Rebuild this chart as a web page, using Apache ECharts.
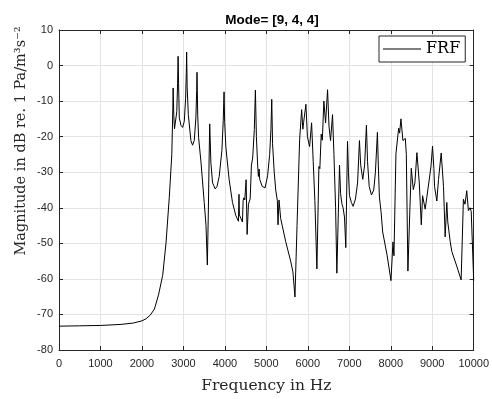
<!DOCTYPE html>
<html>
<head>
<meta charset="utf-8">
<script src="https://cdn.jsdelivr.net/npm/echarts@6/dist/echarts.min.js"></script>
<style>
html,body{margin:0;padding:0;background:#fff;}
#chart{width:492px;height:399px;}
</style>
</head>
<body>
<div id="chart"></div>
<script>
var chartTitle = 'Mode= [9, 4, 4]';
var seriesName = 'FRF';
var xLabel = 'Frequency in Hz';
var yLabel = 'Magnitude in dB re. 1 Pa/m\u00B3s\u207B\u00B2';
var xTicks = [0,1000,2000,3000,4000,5000,6000,7000,8000,9000,10000];
var yTicks = [-80,-70,-60,-50,-40,-30,-20,-10,0,10];

var freq = [0,500,1000,1500,1800,2000,2100,2200,2300,2400,2500,2580,2660,2720,2745,2752,2768,2785,2810,2840,2860,2872,2885,2901,2941,2981,3021,3053,3070,3078,3090,3118,3181,3221,3261,3301,3320,3328,3345,3366,3423,3502,3545,3577,3600,3620,3634,3663,3703,3767,3810,3863,3928,3960,3980,3995,4024,4103,4183,4264,4327,4340,4350,4423,4440,4456,4480,4512,4536,4568,4610,4640,4670,4710,4736,4760,4790,4808,4825,4840,4900,4969,5030,5080,5110,5130,5150,5190,5226,5265,5281,5305,5330,5345,5466,5586,5640,5690,5740,5803,5851,5880,5899,5954,5990,6043,6091,6130,6170,6219,6267,6290,6323,6350,6387,6428,6476,6510,6548,6596,6630,6670,6700,6764,6790,6820,6850,6884,6916,6957,6980,7004,7050,7092,7149,7200,7245,7275,7325,7370,7413,7440,7480,7534,7589,7630,7678,7700,7726,7765,7805,7909,8005,8053,8077,8125,8190,8214,8245,8293,8351,8375,8413,8462,8495,8543,8582,8630,8688,8736,8767,8830,8870,8911,8969,9007,9040,9055,9111,9151,9183,9216,9272,9312,9351,9375,9433,9472,9591,9697,9752,9790,9832,9872,9910,9940,10000];
var magnitude = [-73.3,-73.2,-73.1,-72.8,-72.4,-71.8,-71.2,-70.2,-68.5,-64.5,-59,-50,-37,-25,-12,-6.3,-14,-17.8,-17.5,-13,-5,2.6,-6,-14.7,-16.8,-17.4,-15.7,-9.2,-2,3.8,-6,-13.8,-21.1,-22.4,-21.1,-14.7,-7,-1.9,-14,-20.2,-27.1,-38.5,-45,-56.1,-42,-26,-16.4,-27.5,-33,-34.7,-34,-31.2,-23.9,-15.5,-7.4,-16,-23,-32.1,-38.5,-42.2,-43.8,-36.2,-42,-44,-38,-37.2,-37.8,-32.1,-47.5,-39,-37.5,-28,-26,-18,-6.9,-20,-28,-31.2,-29.1,-32,-34,-34.4,-31,-25,-18,-9.5,-22,-30,-35,-38,-44.8,-37.8,-41,-43,-49.5,-55,-58,-65.1,-45,-20.7,-12.4,-17.9,-16,-10.9,-20,-22.8,-16.1,-27,-38,-57.2,-28.4,-29,-19.3,-21,-10,-16.1,-6.8,-17,-21.1,-13.8,-25,-40,-58.4,-28,-36,-38.8,-40,-42.6,-51.2,-21.3,-30,-36.5,-38.5,-39.6,-37.5,-33,-21.1,-28,-32,-28,-16.8,-27,-34,-36.4,-35,-30,-18.8,-28,-37,-41,-46.8,-53.2,-60.5,-49.6,-53.5,-24.8,-17.6,-19,-15,-21.1,-20.5,-25,-57.8,-40,-28.9,-34.9,-33,-24.5,-33,-44.8,-36.6,-40.4,-37,-36.7,-28.5,-22.7,-29,-34,-38.1,-32.1,-31.7,-24.6,-34,-48.2,-38.5,-44,-49.5,-52.3,-56.4,-60.3,-37.6,-39,-35.2,-40.8,-40,-41,-60.5];

var data = freq.map(function(f, i){ return [f, magnitude[i]]; });

var axisColor = '#262626';
var gridColor = '#e3e3e3';
var sansFont = 'Liberation Sans, Arial, sans-serif';
var serifFont = 'DejaVu Serif, serif';

function plainLabel(v){ return String(v); }

var chart = echarts.init(document.getElementById('chart'), null, {renderer:'canvas'});
chart.setOption({
  animation: false,
  backgroundColor: '#ffffff',
  title: {
    text: chartTitle,
    left: 267, top: 8, textAlign: 'center',
    textStyle: {fontFamily: sansFont, fontWeight: 'bold', fontSize: 13.5, color: '#000'}
  },
  graphic: [{
    type: 'text',
    x: 21, y: 141,
    rotation: Math.PI / 2,
    style: {
      text: yLabel,
      fontFamily: serifFont, fontSize: 14.5, fill: '#262626',
      textAlign: 'center', textVerticalAlign: 'middle'
    }
  }],
  legend: {
    data: [seriesName],
    left: 379, top: 36,
    orient: 'vertical',
    icon: 'rect',
    padding: [5, 5, 5, 4],
    itemWidth: 38, itemHeight: 1, itemGap: 0,
    itemStyle: {color: '#000', borderWidth: 0},
    borderColor: axisColor, borderWidth: 1,
    backgroundColor: '#fff',
    textStyle: {fontFamily: serifFont, fontSize: 16, color: '#000'}
  },
  grid: {left: 59, right: 17, top: 30, bottom: 42, containLabel: false},
  xAxis: [{
    type: 'value', min: xTicks[0], max: xTicks[xTicks.length-1], interval: xTicks[1]-xTicks[0],
    name: xLabel, nameLocation: 'middle', nameGap: 28,
    nameTextStyle: {fontFamily: serifFont, fontSize: 15.5, color: '#262626'},
    axisLine: {show: true, onZero: false, lineStyle: {color: axisColor, width: 1}},
    axisTick: {show: true, inside: true, length: 4, lineStyle: {color: axisColor}},
    axisLabel: {show: true, margin: 8, fontFamily: sansFont, fontSize: 11, color: axisColor, formatter: plainLabel},
    splitLine: {show: true, lineStyle: {color: gridColor, width: 1}}
  },{
    type: 'value', position: 'top', min: xTicks[0], max: xTicks[xTicks.length-1], interval: xTicks[1]-xTicks[0],
    axisLine: {show: true, onZero: false, lineStyle: {color: axisColor, width: 1}},
    axisTick: {show: true, inside: true, length: 4, lineStyle: {color: axisColor}},
    axisLabel: {show: false}, splitLine: {show: false}
  }],
  yAxis: [{
    type: 'value', min: yTicks[0], max: yTicks[yTicks.length-1], interval: yTicks[1]-yTicks[0],
    axisLine: {show: true, onZero: false, lineStyle: {color: axisColor, width: 1}},
    axisTick: {show: true, inside: true, length: 4, lineStyle: {color: axisColor}},
    axisLabel: {show: true, margin: 6, fontFamily: sansFont, fontSize: 11, color: axisColor, formatter: plainLabel},
    splitLine: {show: true, lineStyle: {color: gridColor, width: 1}}
  },{
    type: 'value', position: 'right', min: yTicks[0], max: yTicks[yTicks.length-1], interval: yTicks[1]-yTicks[0],
    axisLine: {show: true, onZero: false, lineStyle: {color: axisColor, width: 1}},
    axisTick: {show: true, inside: true, length: 4, lineStyle: {color: axisColor}},
    axisLabel: {show: false}, splitLine: {show: false}
  }],
  series: [{
    name: seriesName, type: 'line', xAxisIndex: 0, yAxisIndex: 0,
    data: data, symbol: 'none', showSymbol: false,
    lineStyle: {color: '#000', width: 1},
    itemStyle: {color: '#000'}
  }]
});
</script>
</body>
</html>
